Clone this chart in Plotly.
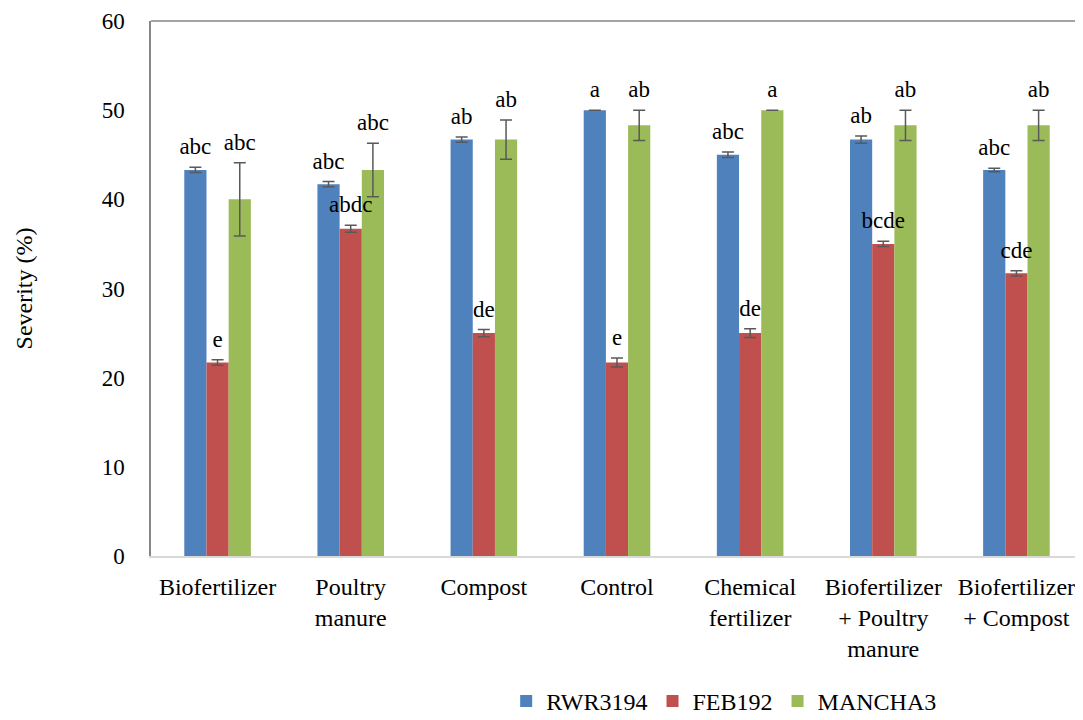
import plotly.graph_objects as go

categories = ["Biofertilizer", "Poultry<br>manure", "Compost", "Control",
              "Chemical<br>fertilizer", "Biofertilizer<br>+ Poultry<br>manure",
              "Biofertilizer<br>+ Compost"]

series_names = ["RWR3194", "FEB192", "MANCHA3"]

rwr3194 = [43.3, 41.7, 46.7, 50.0, 45.0, 46.7, 43.3]
feb192 = [21.7, 36.7, 25.0, 21.7, 25.0, 35.0, 31.7]
mancha3 = [40.0, 43.3, 46.7, 48.3, 50.0, 48.3, 48.3]

rwr3194_err = [0.3, 0.3, 0.3, 0.0, 0.3, 0.4, 0.2]
feb192_err = [0.3, 0.4, 0.4, 0.5, 0.5, 0.3, 0.3]
mancha3_err = [4.1, 3.0, 2.2, 1.7, 0.0, 1.7, 1.7]

rwr3194_letters = ["abc", "abc", "ab", "a", "abc", "ab", "abc"]
feb192_letters = ["e", "abdc", "de", "e", "de", "bcde", "cde"]
mancha3_letters = ["abc", "abc", "ab", "ab", "a", "ab", "ab"]

colors = ["#4F81BD", "#C0504D", "#9BBB59"]
font_family = "Liberation Serif, Times New Roman, serif"

values = [rwr3194, feb192, mancha3]
errors = [rwr3194_err, feb192_err, mancha3_err]
letters = [rwr3194_letters, feb192_letters, mancha3_letters]

fig = go.Figure()

for i, name in enumerate(series_names):
    fig.add_trace(go.Bar(
        x=categories, y=values[i], name=name, offsetgroup=str(i),
        marker=dict(color=colors[i], line=dict(width=0)),
        error_y=dict(type="data", array=errors[i], visible=True,
                     color="#595959", thickness=1.5, width=6),
    ))

# significance letters above the error bars (invisible marker pads the gap)
for i, name in enumerate(series_names):
    tops = [v + e for v, e in zip(values[i], errors[i])]
    fig.add_trace(go.Scatter(
        x=categories, y=tops, mode="markers+text", text=letters[i],
        textposition="top center", offsetgroup=str(i),
        marker=dict(size=10, opacity=0),
        textfont=dict(family=font_family, size=23, color="black"),
        showlegend=False, hoverinfo="skip",
    ))

# page body adds 8px on the top/left; legend must not push the margins
fig.update_layout(
    width=1075, height=712,
    margin=dict(l=143, r=0, t=13, b=164, autoexpand=False),
    paper_bgcolor="white", plot_bgcolor="white",
    barmode="group", bargap=0.5, bargroupgap=0,
    scattermode="group", scattergap=0.5,
    font=dict(family=font_family, size=23, color="black"),
    legend=dict(orientation="h", x=0.615, xanchor="center",
                y=-0.272, yanchor="middle",
                font=dict(family=font_family, size=24),
                itemwidth=30),
    showlegend=True,
)

fig.update_xaxes(
    showline=True, linecolor="#d9d9d9", linewidth=1.5,
    showgrid=False, ticks="", ticklabelstandoff=8, automargin=False,
    tickfont=dict(family=font_family, size=24),
)
fig.update_yaxes(
    range=[0, 60], dtick=10, showline=True, linecolor="#868686",
    linewidth=1.5, showgrid=False, zeroline=False, ticks="",
    ticklabelstandoff=20, automargin=False,
    tickfont=dict(family=font_family, size=23),
    title=dict(text="Severity (%)", standoff=62,
               font=dict(family=font_family, size=24)),
)

# top border of the plot area
fig.add_shape(type="line", xref="paper", yref="paper", x0=0, x1=1, y0=1, y1=1,
              line=dict(color="#868686", width=1.5))

fig.write_html("out.html")
